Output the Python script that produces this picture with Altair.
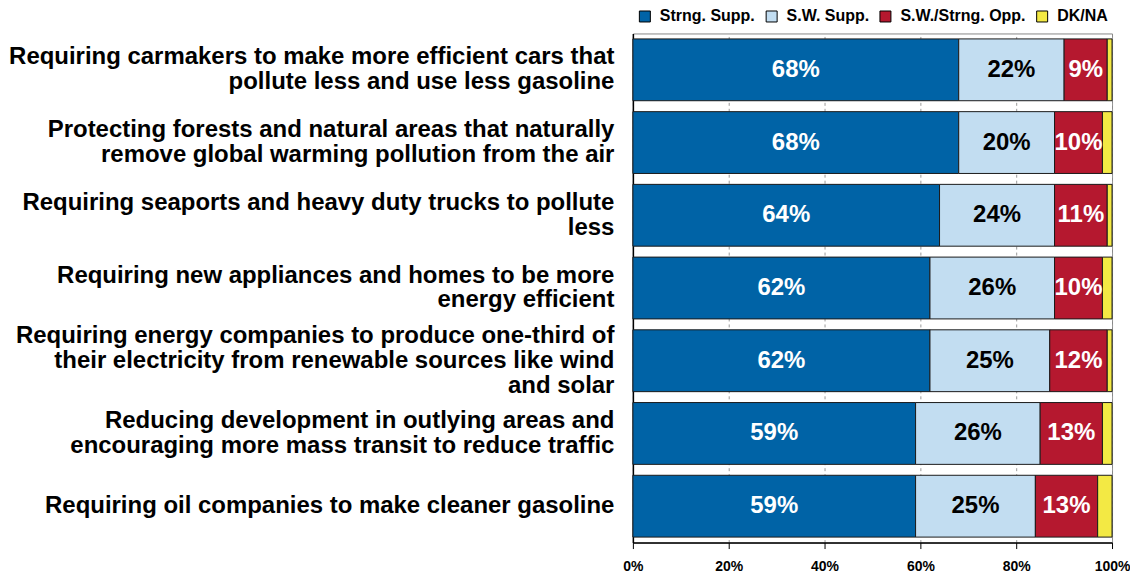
import altair as alt
import pandas as pd

questions = [
    "Requiring carmakers to make more efficient cars that|pollute less and use less gasoline",
    "Protecting forests and natural areas that naturally|remove global warming pollution from the air",
    "Requiring seaports and heavy duty trucks to pollute|less",
    "Requiring new appliances and homes to be more|energy efficient",
    "Requiring energy companies to produce one-third of|their electricity from renewable sources like wind|and solar",
    "Reducing development in outlying areas and|encouraging more mass transit to reduce traffic",
    "Requiring oil companies to make cleaner gasoline",
]
categories = ["Strng. Supp.", "S.W. Supp.", "S.W./Strng. Opp.", "DK/NA"]
strong_supp = [68, 68, 64, 62, 62, 59, 59]
sw_supp = [22, 20, 24, 26, 25, 26, 25]
opp = [9, 10, 11, 10, 12, 13, 13]
dkna = [1, 2, 1, 2, 1, 2, 3]
colors = ["#0063A6", "#C2DDF1", "#B5182F", "#F3E944"]
text_colors = ["white", "black", "white"]

rows = []
for i, q in enumerate(questions):
    for j, (c, vals) in enumerate(zip(categories, [strong_supp, sw_supp, opp, dkna])):
        rows.append({"q": q, "cat": c, "order": j, "v": vals[i] / 100.0,
                     "tc": text_colors[j] if j < 3 else "none"})
df = pd.DataFrame(rows)

LH = 25
nlines = "length(split(datum.value, '|'))"

base = alt.Chart(df).transform_stack(
    stack="v", as_=["x0", "x1"], groupby=["q"], sort=[alt.SortField("order")]
).transform_calculate(
    mid="(datum.x0 + datum.x1) / 2",
    lbl="format(datum.v, '.0%')"
)

y_enc = alt.Y(
    "q:N", sort=questions, title=None,
    scale=alt.Scale(paddingInner=0.15, paddingOuter=0.075),
    axis=alt.Axis(
        labelExpr="split(datum.label, '|')",
        labelFont="Liberation Sans", labelFontSize=24, labelFontWeight="bold",
        labelColor="black", labelLimit=1000, labelPadding=19, labelLineHeight=LH,
        labelOffset={
            "condition": [
                {"test": f"{nlines} == 2", "value": -LH / 2},
                {"test": f"{nlines} == 3", "value": -LH},
            ],
            "value": 0,
        },
        ticks=False, domain=True, domainColor="black", domainWidth=1.5, grid=False,
    ),
)

bars = base.mark_bar(stroke="#1a1a1a", strokeWidth=1).encode(
    x=alt.X(
        "x0:Q", title=None, scale=alt.Scale(domain=[0, 1], nice=False),
        axis=alt.Axis(
            values=[0, 0.2, 0.4, 0.6, 0.8, 1.0], format="%",
            labelFont="Liberation Sans", labelFontSize=14, labelFontWeight="bold",
            labelColor="black", tickColor="black", tickSize=6, labelPadding=11,
            labelFlush=False,
            domainColor="black", domainWidth=1.5,
            grid=True, gridColor="#999999", gridDash=[3, 3], gridWidth=1,
        ),
    ),
    x2="x1:Q",
    y=y_enc,
    color=alt.Color(
        "cat:N", sort=categories,
        scale=alt.Scale(domain=categories, range=colors),
        legend=alt.Legend(
            title=None, orient="none", direction="horizontal",
            legendX=4, legendY=-25,
            symbolType="square", symbolSize=121, symbolStrokeColor="black",
            symbolStrokeWidth=1, symbolOpacity=1,
            labelFont="Liberation Sans", labelFontSize=16, labelFontWeight="bold",
            labelColor="black", columnPadding=8, labelOffset=7,
        ),
    ),
    order=alt.Order("order:Q"),
)

texts = base.transform_filter("datum.order < 3").mark_text(
    font="Liberation Sans", fontSize=24, fontWeight="bold"
).encode(
    x="mid:Q",
    y=alt.Y("q:N", sort=questions),
    text="lbl:N",
    color=alt.Color("tc:N", scale=None),
)

chart = (bars + texts).properties(width=480, height=510, padding=0).configure_view(
    stroke="#888888", strokeWidth=1
)

chart.save("out.html", embed_options={"renderer": "svg", "actions": False})
